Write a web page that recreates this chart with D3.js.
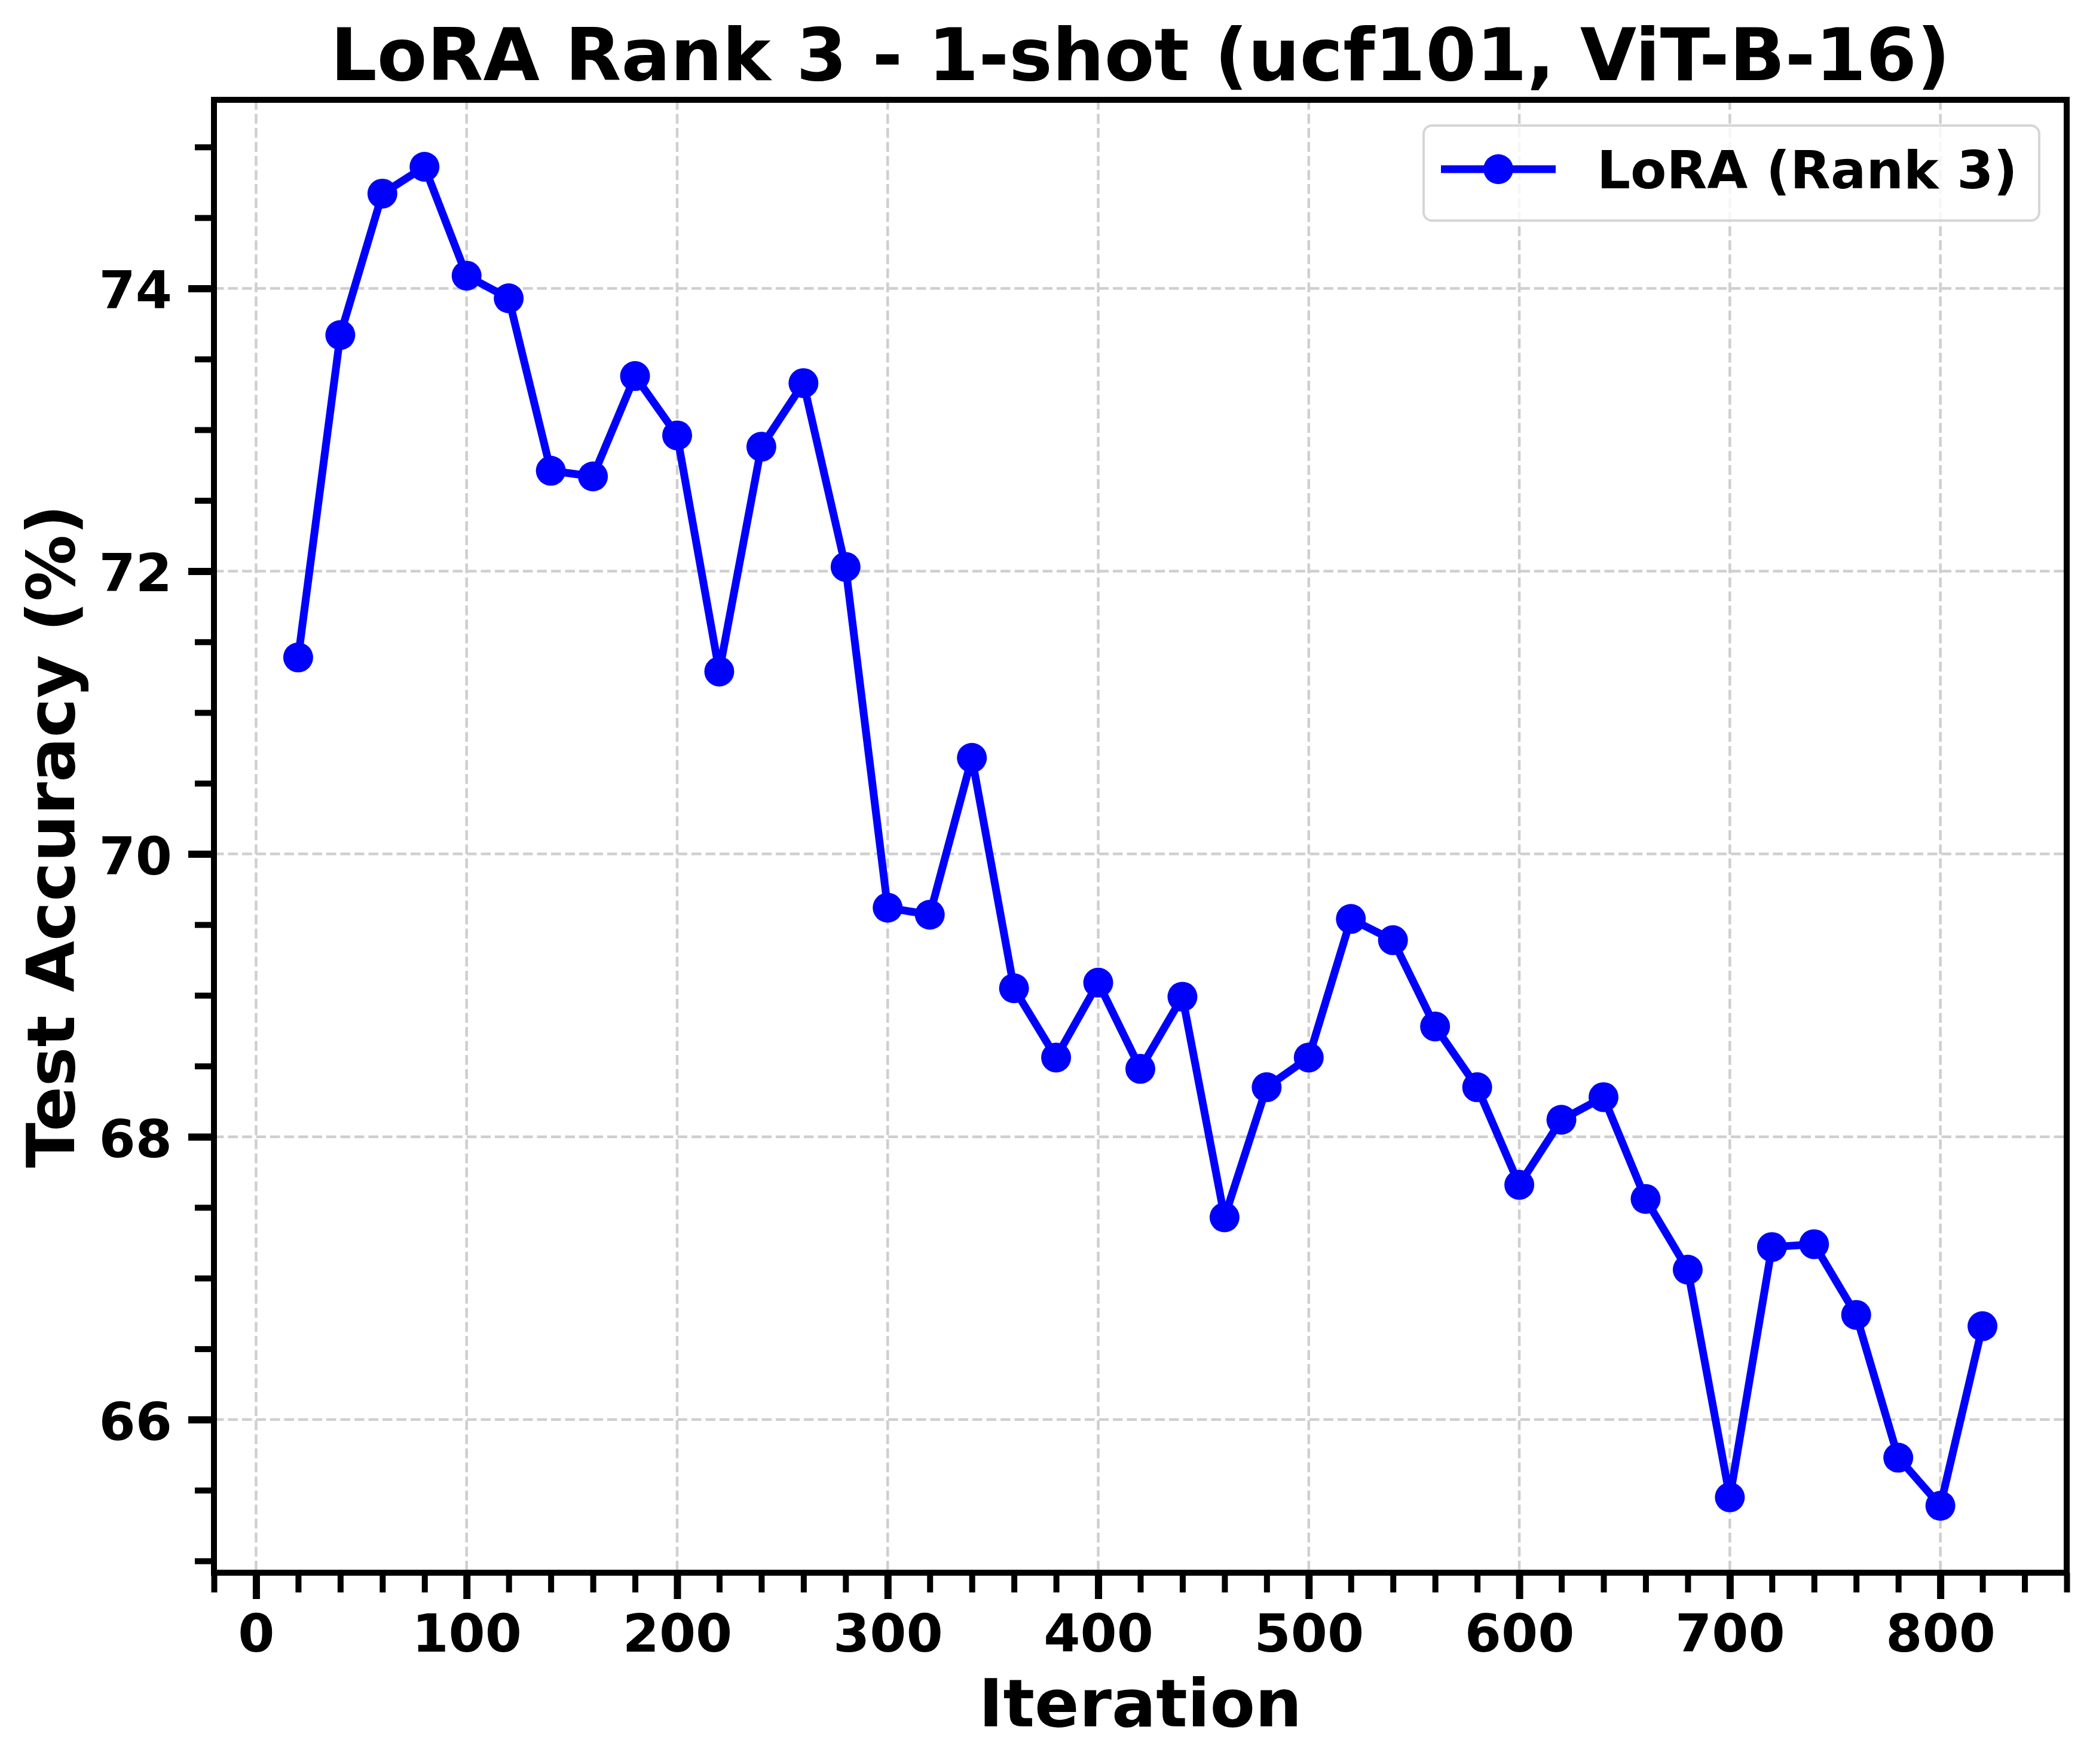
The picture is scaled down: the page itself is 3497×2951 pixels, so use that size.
<!DOCTYPE html>
<html>
<head>
<meta charset="utf-8">
<script src="https://cdn.jsdelivr.net/npm/d3@7"></script>
<style>
  body { margin: 0; background: #fff; }
  text { font-family: "DejaVu Sans", sans-serif; font-weight: bold; }
</style>
</head>
<body>
<svg id="chart"></svg>
<script>
// values
const iterations = [20, 40, 60, 80, 100, 120, 140, 160, 180, 200, 220, 240, 260, 280,
  300, 320, 340, 360, 380, 400, 420, 440, 460, 480, 500, 520, 540, 560, 580, 600,
  620, 640, 660, 680, 700, 720, 740, 760, 780, 800, 820];
const accuracy = [71.39, 73.67, 74.67, 74.86, 74.09, 73.93, 72.71, 72.67, 73.38, 72.96, 71.29, 72.88, 73.33, 72.03,
  69.62, 69.57, 70.68, 69.05, 68.56, 69.09, 68.48, 68.99, 67.43, 68.35, 68.56, 69.54, 69.39, 68.78, 68.35, 67.66,
  68.12, 68.28, 67.56, 67.06, 65.45, 67.22, 67.24, 66.74, 65.73, 65.39, 66.66];
const xTicks = [0, 100, 200, 300, 400, 500, 600, 700, 800];
const yTicks = [66, 68, 70, 72, 74];
const seriesName = "LoRA (Rank 3)";

const W = 3497, H = 2951;
const margin = {top: 167, right: 39, bottom: 320, left: 358};
const iw = W - margin.left - margin.right;
const ih = H - margin.top - margin.bottom;

const svg = d3.select("#chart")
  .attr("width", W)
  .attr("height", H)
  .style("background", "white");

// matplotlib style 5% padding
const pad = (lo, hi) => { const m = (hi - lo) * 0.05; return [lo - m, hi + m]; };
const xDom = pad(d3.min(iterations), d3.max(iterations));
const yDom = pad(d3.min(accuracy), d3.max(accuracy));

const x = d3.scaleLinear().domain(xDom).range([0, iw]);
const y = d3.scaleLinear().domain(yDom).range([ih, 0]);

const g = svg.append("g").attr("transform", `translate(${margin.left},${margin.top})`);

// grid
g.append("g").selectAll("line.vg")
  .data(xTicks).join("line")
  .attr("x1", d => x(d)).attr("x2", d => x(d))
  .attr("y1", 0).attr("y2", ih)
  .attr("stroke", "#cfcfcf").attr("stroke-width", 4.5)
  .attr("stroke-dasharray", "16.5,7");
g.append("g").selectAll("line.hg")
  .data(yTicks).join("line")
  .attr("x1", 0).attr("x2", iw)
  .attr("y1", d => y(d)).attr("y2", d => y(d))
  .attr("stroke", "#cfcfcf").attr("stroke-width", 4.5)
  .attr("stroke-dasharray", "16.5,7");

// line + markers
const pts = iterations.map((it, i) => ({it, acc: accuracy[i]}));
const line = d3.line().x(d => x(d.it)).y(d => y(d.acc));
g.append("path")
  .datum(pts)
  .attr("d", line)
  .attr("fill", "none")
  .attr("stroke", "#0000ff")
  .attr("stroke-width", 13)
  .attr("stroke-linejoin", "round");
g.selectAll("circle.pt")
  .data(pts).join("circle")
  .attr("cx", d => x(d.it))
  .attr("cy", d => y(d.acc))
  .attr("r", 25)
  .attr("fill", "#0000ff");

// axes (ticks only, spines drawn below)
const xMinor = d3.range(-20, 861, 20).filter(v => v % 100 !== 0);
const yMinor = d3.range(65, 75.01, 0.5).filter(v => !yTicks.includes(v));

function styleTicks(sel, w) {
  sel.select(".domain").remove();
  sel.selectAll(".tick line").attr("stroke", "black").attr("stroke-width", w);
}

g.append("g").attr("transform", `translate(0,${ih})`)
  .call(d3.axisBottom(x).tickValues(xMinor).tickSize(33).tickFormat(""))
  .call(s => styleTicks(s, 10));
g.append("g").attr("transform", `translate(0,${ih})`)
  .call(d3.axisBottom(x).tickValues(xTicks).tickSize(44).tickPadding(22))
  .call(s => styleTicks(s, 12))
  .call(s => s.selectAll(".tick text")
    .attr("font-size", 88).attr("fill", "black")
    .attr("dy", null).attr("y", 132));

g.append("g")
  .call(d3.axisLeft(y).tickValues(yMinor).tickSize(32).tickFormat(""))
  .call(s => styleTicks(s, 10));
g.append("g")
  .call(d3.axisLeft(y).tickValues(yTicks).tickSize(43))
  .call(s => styleTicks(s, 12))
  .call(s => s.selectAll(".tick text")
    .attr("font-size", 88).attr("fill", "black")
    .attr("x", -70).attr("dy", "0.38em"));

// spines
g.append("rect")
  .attr("width", iw).attr("height", ih)
  .attr("fill", "none").attr("stroke", "black").attr("stroke-width", 10);

// title and labels
svg.append("text")
  .attr("x", margin.left + iw / 2).attr("y", 134)
  .attr("text-anchor", "middle").attr("font-size", 122)
  .text("LoRA Rank 3 - 1-shot (ucf101, ViT-B-16)");
svg.append("text")
  .attr("x", margin.left + iw / 2).attr("y", 2888)
  .attr("text-anchor", "middle").attr("font-size", 110)
  .text("Iteration");
svg.append("text")
  .attr("transform", `translate(124,${margin.top + ih / 2}) rotate(-90)`)
  .attr("text-anchor", "middle").attr("font-size", 111)
  .text("Test Accuracy (%)");

// legend
const lg = svg.append("g");
lg.append("rect")
  .attr("x", 2382).attr("y", 210).attr("width", 1030).attr("height", 159)
  .attr("rx", 14)
  .attr("fill", "white").attr("fill-opacity", 0.8)
  .attr("stroke", "#d6d6d6").attr("stroke-width", 4);
lg.append("line")
  .attr("x1", 2411).attr("x2", 2603).attr("y1", 283).attr("y2", 283)
  .attr("stroke", "#0000ff").attr("stroke-width", 13);
lg.append("circle")
  .attr("cx", 2507).attr("cy", 283).attr("r", 25).attr("fill", "#0000ff");
lg.append("text")
  .attr("x", 2672).attr("y", 315).attr("font-size", 88)
  .text(seriesName);
</script>
</body>
</html>
